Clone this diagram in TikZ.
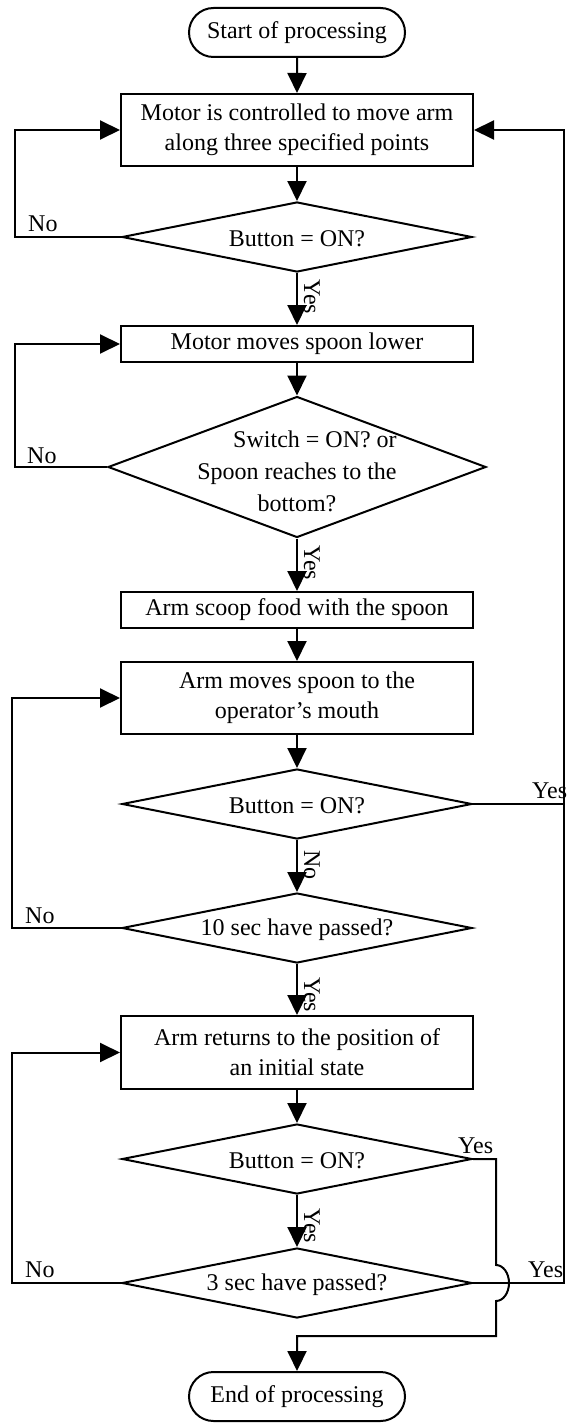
\documentclass[tikz,border=0pt]{standalone}
\usepackage{fontspec}
\setmainfont{Liberation Serif}
\usetikzlibrary{arrows.meta,shapes.geometric,shapes.misc}
\begin{document}
\begin{tikzpicture}[x=1pt,y=-1pt,
  every node/.style={font=\fontsize{24}{30}\selectfont},
  ln/.style={line width=2pt},
  arr/.style={ln,-{Triangle[length=20pt,width=19pt]}},
  box/.style={draw,line width=2pt,rectangle,minimum width=352pt,inner sep=0pt,align=center},
  term/.style={draw,line width=2pt,rounded rectangle,minimum width=216pt,minimum height=49pt,inner sep=0pt},
  dia/.style={draw,line width=2pt,diamond,inner sep=0pt,minimum width=350pt,minimum height=70pt},
  txt/.style={inner sep=0pt,align=center},
  lab/.style={inner sep=0pt,anchor=base west},
  rlab/.style={inner sep=0pt,anchor=base west,rotate=-90}]
\useasboundingbox (0,0) rectangle (569,1423);
% nodes
\node[term] (st) at (297,32.5) {Start of processing};
\node[box,minimum height=72pt] (b1) at (297,130) {Motor is controlled to move arm\\along three specified points};
\node[dia] (d1) at (297,237) {};
\node[txt] (t1) at (297,239) {Button = ON?};
\node[box,minimum height=36pt] (b2) at (297,344) {Motor moves spoon lower};
\node[dia,minimum width=378pt,minimum height=141pt] (d2) at (297,467) {};
\node[txt,font=\fontsize{24}{32}\selectfont] (t2) at (297,471) {\hspace*{36pt}Switch = ON? or\\Spoon reaches to the\\bottom?};
\node[box,minimum height=36pt] (b3) at (297,610) {Arm scoop food with the spoon};
\node[box,minimum height=72pt] (b4) at (297,698) {Arm moves spoon to the\\operator’s mouth};
\node[dia] (d3) at (297,804) {};
\node[txt] (t3) at (297,806) {Button = ON?};
\node[dia] (d4) at (297,928) {};
\node[txt] (t4) at (297,930) {10 sec have passed?};
\node[box,minimum height=73pt] (b5) at (297,1052.5) {Arm returns to the position of\\an initial state};
\node[dia] (d5) at (297,1159) {};
\node[txt] (t5) at (297,1161) {Button = ON?};
\node[dia] (d6) at (297,1283) {};
\node[txt] (t6) at (297,1285) {3 sec have passed?};
\node[term] (en) at (297,1396.5) {End of processing};
% helper coordinates
\coordinate (LA) at (15,0);
\coordinate (LB) at (12,0);
\coordinate (R) at (564,0);
\coordinate (j1) at (496,1265);
\coordinate (j2) at (496,1301);
\coordinate (j3) at (496,1336);
% main flow
\draw[arr] (st) -- (b1);
\draw[arr] (b1) -- (d1);
\draw[arr] (d1) -- (b2);
\draw[arr] (b2) -- (d2);
\draw[arr] (d2) -- (b3);
\draw[arr] (b3) -- (b4);
\draw[arr] (b4) -- (d3);
\draw[arr] (d3) -- (d4);
\draw[arr] (d4) -- (b5);
\draw[arr] (b5) -- (d5);
\draw[arr] (d5) -- (d6);
% left loops
\draw[arr] (d1.west) -- (d1.west -| LA) |- (b1.west);
\draw[arr] (d2.west) -- (d2.west -| LA) |- (b2.west);
\draw[arr] (d4.west) -- (d4.west -| LB) |- (b4.west);
\draw[arr] (d6.west) -- (d6.west -| LB) |- (b5.west);
% right loop
\draw[arr] (d6.east) -- (d6.east -| R) |- (b1.east);
\draw[ln] (d3.east) -- (d3.east -| R);
% jump to end
\draw[arr] (d5.east) -| (j1) .. controls (503.2,1265) and (509,1273.1) .. (509,1283) .. controls (509,1292.9) and (503.2,1301) .. (j2) -- (j3) -| (en);
% labels
\node[lab] (n1) at (28,232) {No};
\node[lab] (n2) at (27,463) {No};
\node[lab] (n4) at (25,923) {No};
\node[lab] (n6) at (25,1277) {No};
\node[lab] (y3) at (532,798) {Yes};
\node[lab] (y5) at (458,1153) {Yes};
\node[lab] (y6) at (528,1277) {Yes};
\node[rlab] (v1) at (304,279) {Yes};
\node[rlab] (v2) at (304,545) {Yes};
\node[rlab] (v3) at (304,850) {No};
\node[rlab] (v4) at (304,977) {Yes};
\node[rlab] (v5) at (304,1208) {Yes};
\end{tikzpicture}
\end{document}
